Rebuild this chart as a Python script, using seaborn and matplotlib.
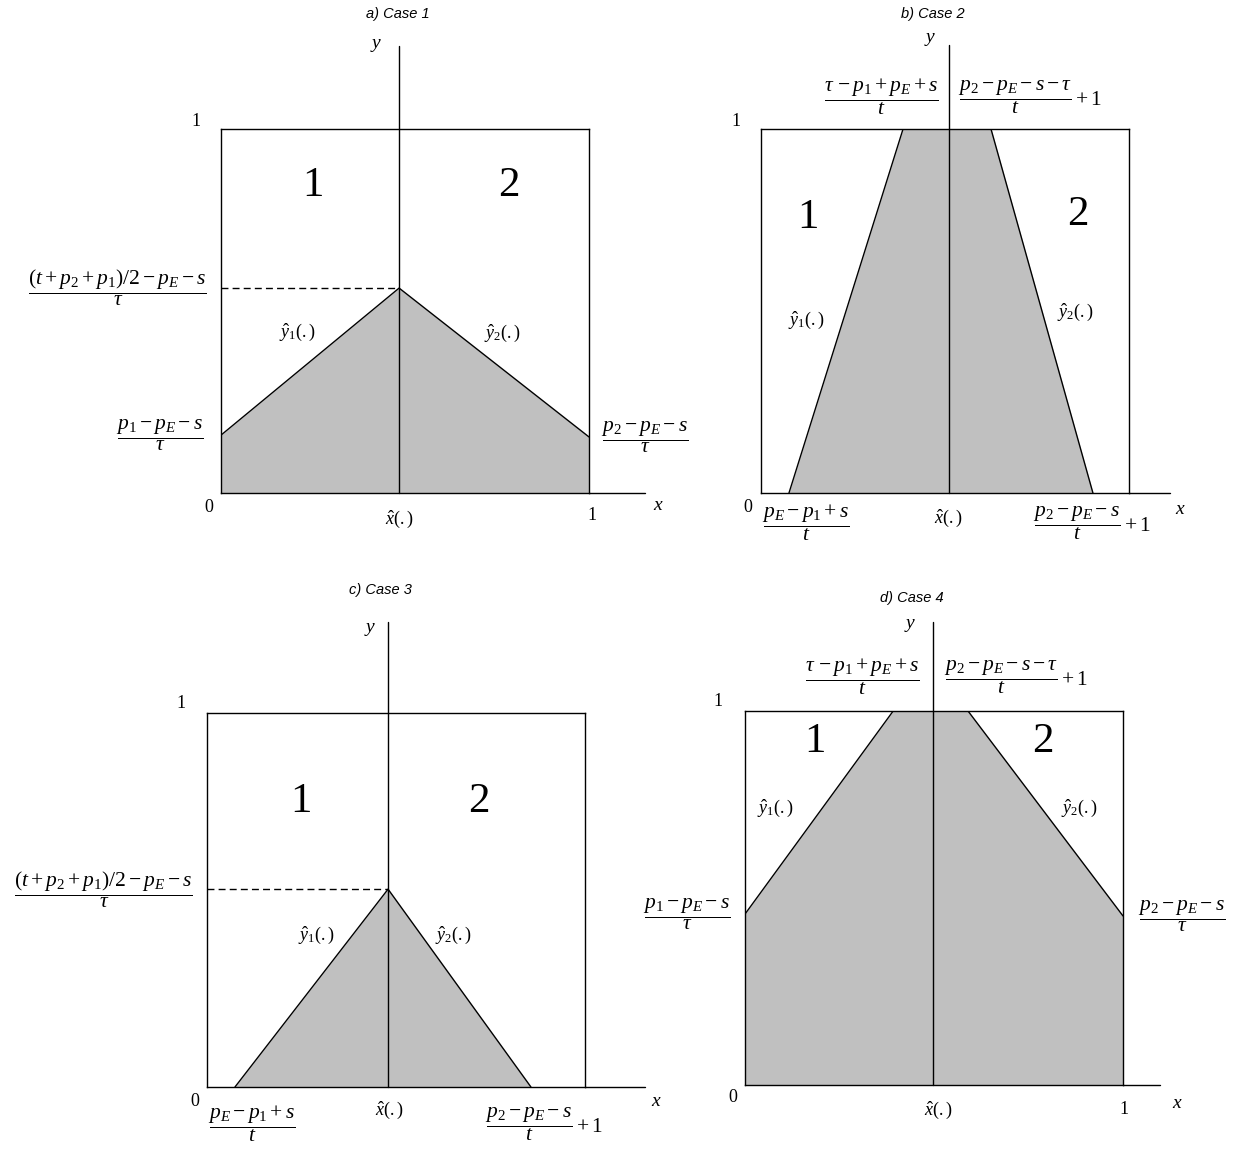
import matplotlib
matplotlib.use("Agg")
import matplotlib.pyplot as plt
import seaborn as sns

# --- CONFIGURATION ---
W, H = 1238, 1149
sns.set_theme(style="white")
plt.rcParams["font.family"] = ["Liberation Serif", "DejaVu Serif"]
plt.rcParams["mathtext.fontset"] = "custom"
plt.rcParams["mathtext.rm"] = "Liberation Serif"
plt.rcParams["mathtext.it"] = "Liberation Serif:italic"
plt.rcParams["mathtext.bf"] = "Liberation Serif:bold"
plt.rcParams["text.color"] = "black"

GREY = "#c0c0c0"
LW = 1.0
FS_FRAC = 15.5

# --- DATA (box is the unit square, x-hat is where the two regions meet) ---
TITLES = ["a) Case 1", "b) Case 2", "c) Case 3", "d) Case 4"]
XHAT = [0.484, 0.511, 0.479, 0.497]

A_X = [0.0, 0.484, 1.0]
A_Y = [0.159, 0.563, 0.154]

B_X = [0.076, 0.386, 0.625, 0.902]
B_Y = [0.0, 1.0, 1.0, 0.0]

C_X = [0.074, 0.479, 0.857]
C_Y = [0.0, 0.529, 0.0]

D_X = [0.0, 0.392, 0.590, 1.0]
D_Y = [0.457, 1.0, 1.0, 0.452]

# pixel boxes (left, top, right, bottom) and axis extents
BOXES = [(221, 129, 589, 493), (761, 129, 1129, 493),
         (207, 713, 585, 1087), (745, 711, 1123, 1085)]
X_EXT = [1.152, 1.111, 1.159, 1.098]
Y_EXT = [1.228, 1.230, 1.243, 1.238]

FRAC_PEAK = r"$\dfrac{(t+p_2+p_1)/2-p_E-s}{\tau}$"
FRAC_L = r"$\dfrac{p_1-p_E-s}{\tau}$"
FRAC_R = r"$\dfrac{p_2-p_E-s}{\tau}$"
FRAC_TL = r"$\dfrac{\tau\,-p_1+p_E+s}{t}$"
FRAC_TR = r"$\dfrac{p_2-p_E-s-\tau}{t}+1$"
FRAC_BL = r"$\dfrac{p_E-p_1+s}{t}$"
FRAC_BR = r"$\dfrac{p_2-p_E-s}{t}+1$"


def make_panel(fig, i, xs, ys):
    l, t, r, b = BOXES[i]
    ax = fig.add_axes([l / W, 1 - b / H, (r - l) / W, (b - t) / H])
    ax.fill_between(xs, ys, 0, color=GREY, lw=0, zorder=1)
    sns.lineplot(x=xs, y=ys, ax=ax, color="black", lw=LW, sort=False,
                 estimator=None, legend=False, zorder=2)
    ax.set_xlim(0, 1)
    ax.set_ylim(0, 1)
    ax.set_xticks([])
    ax.set_yticks([])
    ax.set_xlabel("")
    ax.set_ylabel("")
    for sp in ax.spines.values():
        sp.set_color("black")
        sp.set_linewidth(LW)
    ax.plot([1, X_EXT[i]], [0, 0], color="black", lw=LW, clip_on=False)
    ax.plot([XHAT[i], XHAT[i]], [0, Y_EXT[i]], color="black", lw=LW,
            clip_on=False, zorder=3)
    return ax


def put(ax, i, px, py, s, size=13, **kw):
    l, t, r, b = BOXES[i]
    kw.setdefault("ha", "center")
    kw.setdefault("va", "center")
    ax.text((px - l) / (r - l), (b - py) / (b - t), s, fontsize=size, **kw)


def put_y(ax, i, px, y, s, size=FS_FRAC):
    l, t, r, b = BOXES[i]
    ax.text((px - l) / (r - l), y, s, fontsize=size, ha="center", va="center")


def common(ax, i, title, tpos, ypos, one, zero, xpos, hatpos, big1, big2, yh1, yh2):
    put(ax, i, *tpos, title, 10.5, family="Liberation Sans", style="italic")
    put(ax, i, *ypos, "$y$", 14)
    put(ax, i, *one, "1", 13)
    put(ax, i, *zero, "0", 13)
    put(ax, i, *xpos, "$x$", 14)
    put(ax, i, *hatpos, r"$\hat{x}(.)$", 13)
    put(ax, i, *big1, "1", 31)
    put(ax, i, *big2, "2", 31)
    put(ax, i, *yh1, r"$\hat{y}_1(.)$", 13)
    put(ax, i, *yh2, r"$\hat{y}_2(.)$", 13)


def main():
    fig = plt.figure(figsize=(W / 100, H / 100), dpi=100)

    # a) Case 1
    ax = make_panel(fig, 0, A_X, A_Y)
    ax.plot([0, XHAT[0]], [A_Y[1], A_Y[1]], color="black", lw=LW, ls=(0, (5, 3)))
    common(ax, 0, TITLES[0], (398, 14), (376, 45), (196, 121), (209, 507),
           (658, 505), (399, 519), (313, 186), (509, 186), (297, 332), (502, 333))
    put(ax, 0, 592, 515, "1", 13)
    put_y(ax, 0, 117, A_Y[1], FRAC_PEAK)
    put_y(ax, 0, 160, A_Y[0], FRAC_L)
    put_y(ax, 0, 645, A_Y[-1], FRAC_R)

    # b) Case 2
    ax = make_panel(fig, 1, B_X, B_Y)
    common(ax, 1, TITLES[1], (933, 14), (930, 40), (736, 121), (748, 507),
           (1180, 510), (948, 518), (808, 218), (1078, 215), (806, 320), (1075, 312))
    put(ax, 1, 881, 97, FRAC_TL, FS_FRAC)
    put(ax, 1, 1030, 97, FRAC_TR, FS_FRAC)
    put(ax, 1, 806, 523, FRAC_BL, FS_FRAC)
    put(ax, 1, 1092, 523, FRAC_BR, FS_FRAC)

    # c) Case 3
    ax = make_panel(fig, 2, C_X, C_Y)
    ax.plot([0, XHAT[2]], [C_Y[1], C_Y[1]], color="black", lw=LW, ls=(0, (5, 3)))
    common(ax, 2, TITLES[2], (380, 590), (370, 629), (181, 704), (195, 1101),
           (656, 1101), (389, 1110), (301, 802), (479, 802), (316, 935), (453, 935))
    put_y(ax, 2, 103, C_Y[1], FRAC_PEAK)
    put(ax, 2, 252, 1124, FRAC_BL, FS_FRAC)
    put(ax, 2, 544, 1124, FRAC_BR, FS_FRAC)

    # d) Case 4
    ax = make_panel(fig, 3, D_X, D_Y)
    common(ax, 3, TITLES[3], (912, 598), (910, 625), (718, 702), (733, 1098),
           (1177, 1103), (938, 1110), (815, 742), (1043, 742), (775, 808), (1079, 808))
    put(ax, 3, 1124, 1110, "1", 13)
    put(ax, 3, 862, 677, FRAC_TL, FS_FRAC)
    put(ax, 3, 1016, 677, FRAC_TR, FS_FRAC)
    put_y(ax, 3, 687, D_Y[0], FRAC_L)
    put_y(ax, 3, 1182, D_Y[-1], FRAC_R)

    fig.savefig("out.png", dpi=100, facecolor="white")
    plt.close(fig)


if __name__ == "__main__":
    main()
